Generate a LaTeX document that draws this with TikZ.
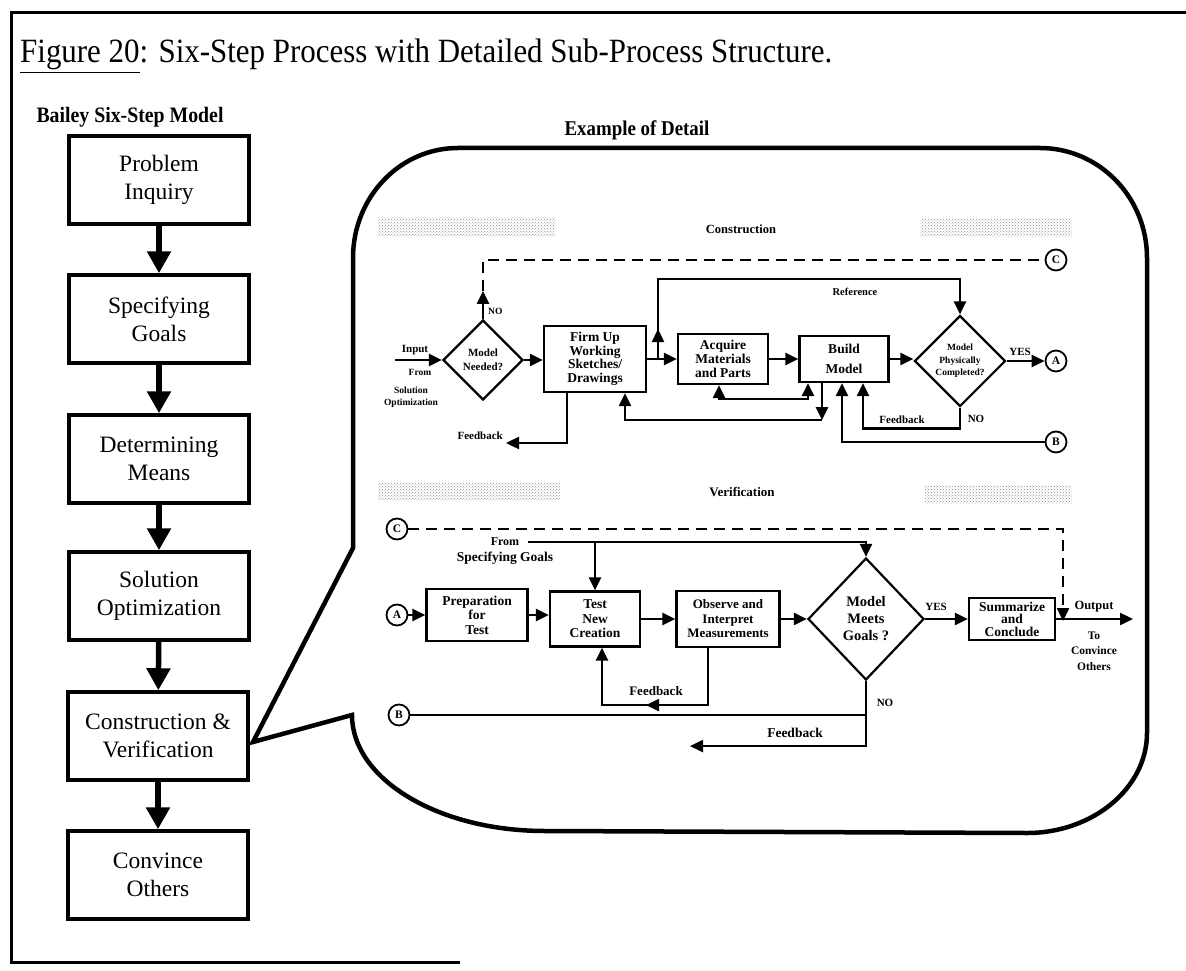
\documentclass[tikz,border=0pt]{standalone}
\usepackage{fontspec}
\setmainfont{Liberation Serif}
\usetikzlibrary{arrows.meta,shapes.geometric,patterns,calc}

\begin{document}
\begin{tikzpicture}[x=1pt,y=-1pt,
  stepbox/.style={draw, line width=3.5pt, minimum width=180pt, minimum height=88pt,
    inner sep=0pt, align=center, font=\fontsize{23.5}{28}\selectfont},
  bigarrow/.style={line width=5.5pt, -{Triangle[width=23pt,length=22pt]}},
  pbox/.style={draw, line width=2.2pt, inner sep=0pt, align=center,
    font=\fontsize{13.5}{14.5}\selectfont\bfseries},
  dia/.style={draw, diamond, line width=2.2pt, inner sep=0pt},
  conn/.style={draw, circle, line width=1.8pt, minimum size=21pt, inner sep=0pt,
    font=\fontsize{11.5}{11.5}\selectfont\bfseries},
  flow/.style={line width=2.4pt},
  tip/.style={-{Triangle[width=12pt,length=13pt]}},
  arr/.style={flow, tip},
  dashflow/.style={line width=2.4pt, dash pattern=on 11pt off 7pt},
  lbl/.style={font=\fontsize{11}{12}\selectfont\bfseries, inner sep=0pt, align=center},
  noise/.style={pattern=crosshatch dots, pattern color=gray!90},
]
\useasboundingbox (0,0) rectangle (1186,971);

% page frame
\draw[line width=3pt] (1186,13) -- (11,13) -- (11,962) -- (460,962);

% headings
\node[anchor=base west, inner sep=0pt, font=\fontsize{34}{34}\selectfont] (title) at (20,63)
  {\scalebox{0.91}[1]{\underline{Figure 20}: Six-Step Process with Detailed Sub-Process Structure.}};
\node[font=\fontsize{22}{22}\selectfont\bfseries, inner sep=0pt] (hdL) at (130,117)
  {\scalebox{0.9}[1]{Bailey Six-Step Model}};
\node[font=\fontsize{21}{21}\selectfont\bfseries, inner sep=0pt] (hdR) at (637,130)
  {\scalebox{0.9}[1]{Example of Detail}};

% six steps
\node[stepbox] (s1) at (159,180) {Problem\\Inquiry};
\node[stepbox] (s2) at (159,319) {Specifying\\Goals};
\node[stepbox] (s3) at (159,459) {Determining\\Means};
\node[stepbox] (s4) at (159,596) {Solution\\Optimization};
\node[stepbox] (s5) at (158,736) {Construction \&\\Verification};
\node[stepbox] (s6) at (158,875) {Convince\\Others};
\foreach \a/\b in {s1/s2,s2/s3,s3/s4,s4/s5,s5/s6}
  \draw[bigarrow] (\a) -- (\b);

% callout bubble
\draw[line width=4.5pt, line join=miter]
  (353,548) -- (353,258)
  .. controls (353,197) and (400,148) .. (458,148)
  -- (1040,148)
  .. controls (1099,148) and (1147,197) .. (1147,258)
  -- (1147,733)
  .. controls (1147,788) and (1093,833) .. (1027,833)
  -- (545,831)
  .. controls (438,831) and (352,779) .. (352,715)
  -- (253,742) -- cycle;

% ---------------- Construction ----------------
\path[noise] (377,217) rectangle (555,236);
\path[noise] (920,218) rectangle (1072,236);
\node[lbl, font=\fontsize{12.5}{12.5}\selectfont\bfseries] (tCons) at (741,229) {Construction};

\node[dia, minimum width=80pt, minimum height=80pt] (nq) at (483,360) {};
\node[lbl, font=\fontsize{11}{13.5}\selectfont\bfseries] (nqT) at (nq) {Model\\Needed?};
\node[pbox, minimum width=102pt, minimum height=66pt, font=\fontsize{13.5}{13.5}\selectfont\bfseries]
  (firm) at (595,359) {Firm Up\\Working\\Sketches/\\Drawings};
\node[pbox, minimum width=90pt, minimum height=50pt, font=\fontsize{13.5}{14}\selectfont\bfseries]
  (acq) at (723,359) {Acquire\\Materials\\and Parts};
\node[pbox, minimum width=89pt, minimum height=46pt, font=\fontsize{13.5}{20}\selectfont\bfseries]
  (build) at (844,359) {Build\\Model};
\node[dia, minimum width=91pt, minimum height=91pt] (cq) at (960,361) {};
\node[lbl, font=\fontsize{9.5}{12.5}\selectfont\bfseries] (cqT) at (cq) {Model\\Physically\\Completed?};
\node[conn] (C1) at (1056,260) {C};
\node[conn] (A1) at (1056,361) {A};
\node[conn] (B1) at (1056,442) {B};

\coordinate (inp) at (395,360);
\coordinate (br) at (658,359);
\coordinate (fbL) at (506,443);

\draw[arr] (inp) -- (nq.west);
\draw[arr] (nq.east) -- (nq.east -| firm.west);
\draw[arr] (nq.north) -- ++(0,-28) coordinate (noUp);
\draw[dashflow] (noUp) -- (nq.north |- C1) -- (C1.west);
\draw[arr] (firm.east) -- (acq.west);
\draw[arr] (br) -- (br |- 0,279) -| (cq.north);
\draw[arr] (br) -- ++(0,-30);
\draw[arr] (acq.east) -- (build.west);
\draw[arr] (build.east) -- (build.east -| cq.west);
\draw[arr] (cq.east) -- (A1.west);
\draw[arr] (cq.south) -- ++(0,21) -| ([xshift=19pt]build.south);
\draw[flow, {Triangle[width=12pt,length=13pt]}-{Triangle[width=12pt,length=13pt]}]
  ([xshift=-4pt]acq.south) -- ++(0,14) -| ([xshift=-36pt]build.south);
\draw[arr] ([xshift=-22pt]build.south) -- ++(0,37) coordinate (fb1);
\draw[arr] (fb1) -| ([xshift=30pt]firm.south);
\draw[arr] (B1.west) -| ([xshift=-2pt]build.south);
\draw[arr] ([xshift=-28pt]firm.south) |- (fbL);

\node[lbl] (lInput) at (415,350) {Input};
\node[lbl, font=\fontsize{9.5}{9.5}\selectfont\bfseries] (lFrom1) at (420,372) {From};
\node[lbl, font=\fontsize{9.5}{12.5}\selectfont\bfseries] (lSol) at (411,397) {Solution\\Optimization};
\node[lbl, font=\fontsize{9.5}{9.5}\selectfont\bfseries, anchor=west] (lNo1) at (488,311) {NO};
\node[lbl, font=\fontsize{10.5}{10.5}\selectfont\bfseries] (lRef) at (855,292) {Reference};
\node[lbl] (lYes1) at (1020,352) {YES};
\node[lbl] (lNo2) at (976,419) {NO};
\node[lbl] (lFb1) at (902,420) {Feedback};
\node[lbl, anchor=south east] (lFb2) at (503,440) {Feedback};

% ---------------- Verification ----------------
\path[noise] (378,482) rectangle (560,500);
\path[noise] (925,485) rectangle (1072,503);
\node[lbl, font=\fontsize{13}{13}\selectfont\bfseries] (tVer) at (742,492) {Verification};

\node[conn] (C2) at (397,529) {C};
\node[conn] (A2) at (397,615) {A};
\node[conn] (B2) at (399,715) {B};
\node[pbox, minimum width=101pt, minimum height=52pt] (prep) at (477,615) {Preparation\\for\\Test};
\node[pbox, minimum width=90pt, minimum height=55pt] (test) at (595,619) {Test\\New\\Creation};
\node[pbox, minimum width=103pt, minimum height=56pt, font=\fontsize{13}{14.5}\selectfont\bfseries]
  (obs) at (728,619) {Observe and\\Interpret\\Measurements};
\node[dia, minimum width=116pt, minimum height=122pt] (mq) at (866,619) {};
\node[lbl, font=\fontsize{14.5}{17}\selectfont\bfseries] (mqT) at (mq) {Model\\Meets\\Goals ?};
\node[pbox, minimum width=86pt, minimum height=42pt, font=\fontsize{13.5}{12.5}\selectfont\bfseries]
  (summ) at (1012,619) {Summarize\\and\\Conclude};

\coordinate (fromS) at (528,542);
\coordinate (cJ) at (1063,619);
\coordinate (outE) at (1133,619);

\draw[dashflow, tip] (C2.east) -- (C2.east -| cJ) -- ([yshift=-2pt]cJ);
\draw[arr] (fromS) -| (mq.north);
\draw[arr] (fromS -| test.north) -- (test.north);
\draw[arr] (A2.east) -- (prep.west);
\draw[arr] (prep.east) -- (prep.east -| test.west);
\draw[arr] (test.east) -- (obs.west);
\draw[arr] (obs.east) -- (mq.west);
\draw[arr] (mq.east) -- (summ.west);
\draw[arr] (summ.east) -- (outE);
\draw[arr] ([xshift=-20pt]obs.south) -- ++(0,57) coordinate (fbv) -| ([xshift=7pt]test.south);
\draw[arr] (fbv) -- ++(-62,0);
\draw[flow] (B2.east) -- (B2.east -| mq.south);
\draw[arr] (mq.south) -- ++(0,65) -- ++(-176,0);

\node[lbl, font=\fontsize{12}{12}\selectfont\bfseries] (lFrom2) at (505,542) {From};
\node[lbl, font=\fontsize{13.5}{13.5}\selectfont\bfseries] (lSpec) at (505,558) {Specifying Goals};
\node[lbl, font=\fontsize{13}{13}\selectfont\bfseries] (lFb3) at (656,691) {Feedback};
\node[lbl, font=\fontsize{13.5}{13.5}\selectfont\bfseries] (lFb4) at (795,733) {Feedback};
\node[lbl] (lYes2) at (936,607) {YES};
\node[lbl] (lNo3) at (885,703) {NO};
\node[lbl, font=\fontsize{12.5}{12.5}\selectfont\bfseries] (lOut) at (1094,607) {Output};
\node[lbl, font=\fontsize{11.5}{15.5}\selectfont\bfseries] (lConv) at (1094,651) {To\\Convince\\Others};
\end{tikzpicture}
\end{document}
